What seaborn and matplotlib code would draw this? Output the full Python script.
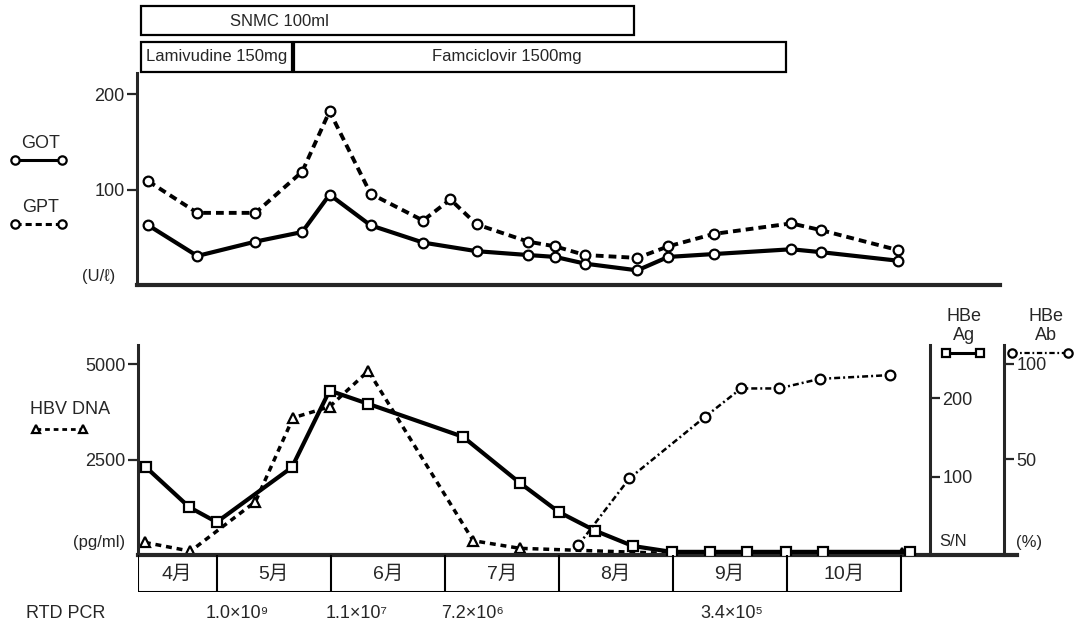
import matplotlib
matplotlib.use("Agg")
import matplotlib.pyplot as plt
from matplotlib.lines import Line2D
from matplotlib.patches import Rectangle
import seaborn as sns

# ---------------- data (x in month units: 5.0 = 1 May, 6.0 = 1 June ...) -------------
gpt_x = [4.40, 4.83, 5.34, 5.75, 5.99, 6.35, 6.81, 7.05, 7.28, 7.73, 7.97, 8.23, 8.69, 8.96, 9.36, 10.04, 10.30, 10.98]
gpt_y = [109, 76, 76, 119, 182, 96, 68, 90, 64, 46, 41, 32, 29, 41, 54, 65, 58, 37]
got_x = [4.40, 4.83, 5.34, 5.75, 5.99, 6.35, 6.81, 7.28, 7.73, 7.97, 8.23, 8.69, 8.96, 9.36, 10.04, 10.30, 10.98]
got_y = [63, 31, 46, 56, 95, 63, 45, 36, 32, 30, 23, 16, 30, 33, 38, 35, 26]

dna_x = [4.37, 4.77, 5.34, 5.67, 5.99, 6.33, 7.25, 7.66, 8.99, 11.01]
dna_y = [330, 100, 1400, 3600, 3890, 4830, 375, 175, 40, 40]          # pg/ml

hbeag_x = [4.38, 4.76, 5.00, 5.66, 5.99, 6.33, 7.16, 7.66, 8.00, 8.32, 8.65, 8.99, 9.33, 9.65, 9.99, 10.32, 11.08]
hbeag_y = [112, 61, 42, 112, 210, 193, 151, 92, 55, 31, 11.5, 4, 4, 4, 4, 4, 4]   # S/N

hbeab_x = [8.17, 8.62, 9.28, 9.60, 9.93, 10.29, 10.91]
hbeab_y = [5, 40, 72, 87, 87, 92, 94]                                  # %

months = ["4月", "5月", "6月", "7月", "8月", "9月", "10月"]
month_edges = [4.307, 5, 6, 7, 8, 9, 10, 11]

snmc_period = (4.34, 8.66)
lam_period = (4.34, 5.66)
fam_period = (5.68, 9.99)

pcr_labels = ["1.0×10⁹", "1.1×10⁷", "7.2×10⁶", "3.4×10⁵"]
pcr_px = [237, 357, 473, 732]

# ---------------- layout helpers ---------------------------------------------------------
W, H = 1077, 642
def fx(px): return px / W
def fy(py): return 1 - py / H
def m(px): return 5 + (px - 216.7) / 114.0

sns.set_style("ticks")
plt.rcParams["font.family"] = ["Liberation Sans", "DejaVu Sans", "Noto Sans CJK JP"]
plt.rcParams["axes.linewidth"] = 2.2
fig = plt.figure(figsize=(W / 100, H / 100), dpi=100)

FS = 13
K = "black"

def circ(**kw):
    d = dict(marker="o", markersize=7, markerfacecolor="white", markeredgecolor=K,
             markeredgewidth=1.6, color=K)
    d.update(kw)
    return d

# ---------------- top panel: GOT / GPT --------------------------------------------------
ax_top = fig.add_axes([fx(137.3), fy(285), fx(1000) - fx(137.3), (285 - 73) / H])
ax_top.set_xlim(m(137.3), m(1000))
ax_top.set_ylim(0.7, 222)
sns.lineplot(x=gpt_x, y=gpt_y, ax=ax_top, sort=False, estimator=None,
             **circ(linewidth=2.8, linestyle=(0, (2.0, 1.3))))
sns.lineplot(x=got_x, y=got_y, ax=ax_top, sort=False, estimator=None,
             **circ(linewidth=3.0, linestyle="-"))
sns.despine(ax=ax_top)
ax_top.spines["bottom"].set_linewidth(3)
ax_top.set_xticks([])
ax_top.set_yticks([100, 200])
ax_top.tick_params(axis="y", direction="out", length=7, width=1.6, labelsize=FS, pad=2)

# ---------------- bottom panel: HBV DNA / HBeAg / HBeAb ----------------------------------
ax_bot = fig.add_axes([fx(137.7), fy(555), fx(1017) - fx(137.7), (555 - 345) / H])
ax_bot.set_xlim(m(137.7), m(1017))
ax_bot.set_ylim(0, 5510)
sns.lineplot(x=dna_x, y=dna_y, ax=ax_bot, sort=False, estimator=None,
             **circ(marker="^", markersize=7.5, linewidth=2.5, linestyle=(0, (1.7, 1.4))))
sns.despine(ax=ax_bot)
ax_bot.spines["bottom"].set_linewidth(3)
ax_bot.set_xticks([])
ax_bot.set_yticks([2500, 5000])
ax_bot.tick_params(axis="y", direction="out", length=7, width=1.6, labelsize=FS, pad=2)

ax_ag = ax_bot.twinx()
ax_ag.set_ylim(0, 268.2)
sns.lineplot(x=hbeag_x, y=hbeag_y, ax=ax_ag, sort=False, estimator=None,
             **circ(marker="s", markersize=7, linewidth=3.0, linestyle="-"))
ax_ab = ax_bot.twinx()
ax_ab.set_ylim(0, 109.7)
sns.lineplot(x=hbeab_x, y=hbeab_y, ax=ax_ab, sort=False, estimator=None,
             **circ(linewidth=1.8, linestyle=(0, (2.4, 1.2, 0.8, 1.2))))
for a, pos, ticks in [(ax_ag, m(930), [100, 200]), (ax_ab, m(1004.3), [50, 100])]:
    for s in ["top", "left", "bottom"]:
        a.spines[s].set_visible(False)
    a.spines["right"].set_position(("data", pos))
    a.spines["right"].set_linewidth(2.2)
    a.set_yticks(ticks)
    a.set_ylabel("")
    a.tick_params(axis="y", direction="out", length=7, width=1.6, labelsize=FS, pad=2)
    a.set_xlim(ax_bot.get_xlim())

# ---------------- month row -------------------------------------------------------------
ax_m = fig.add_axes([fx(137.7), fy(591.7), fx(1017) - fx(137.7), (591.7 - 555) / H])
ax_m.set_xlim(m(137.7), m(1017))
ax_m.set_ylim(0, 1)
ax_m.axis("off")
ax_m.vlines(month_edges, 0, 1, color=K, lw=1.5)
ax_m.hlines(0, month_edges[0], month_edges[-1], color=K, lw=2.2)
for i, lab in enumerate(months):
    ax_m.text((month_edges[i] + month_edges[i + 1]) / 2, 0.47, lab, ha="center", va="center",
              fontsize=14, family=["Liberation Sans", "Noto Sans CJK JP"])

# ---------------- treatment boxes -------------------------------------------------------
ax_tx = fig.add_axes([fx(137.3), fy(75), fx(1000) - fx(137.3), 75 / H])
ax_tx.set_xlim(m(137.3), m(1000))
ax_tx.set_ylim(75, 0)
ax_tx.axis("off")
for (x0, x1), y0, y1 in [(snmc_period, 6, 35), (lam_period, 41.7, 71.7), (fam_period, 41.7, 71.7)]:
    ax_tx.add_patch(Rectangle((x0, y0), x1 - x0, y1 - y0, fill=False, lw=1.6, ec=K))
ax_tx.text(m(279), 21, "SNMC 100ml", ha="center", va="center", fontsize=12)
ax_tx.text(sum(lam_period) / 2, 57, "Lamivudine 150mg", ha="center", va="center", fontsize=12)
ax_tx.text(m(507), 57, "Famciclovir 1500mg", ha="center", va="center", fontsize=12)

# ---------------- side labels & legend samples ------------------------------------------
def ftext(px, py, s, ha="center", **kw):
    fig.text(fx(px), fy(py), s, ha=ha, va="center", fontsize=kw.pop("fontsize", FS), **kw)

def sample(x0, x1, y, **kw):
    fig.add_artist(Line2D([fx(x0), fx(x1)], [fy(y), fy(y)], transform=fig.transFigure, **kw))

ftext(41, 143, "GOT")
sample(14.5, 62, 160, **circ(markersize=6, linewidth=2.2, linestyle="-"))
ftext(41, 208, "GPT")
sample(14.5, 62, 224, **circ(markersize=6, linewidth=2.2, linestyle=(0, (2.0, 1.3))))
ftext(99, 277, "(U/ℓ)", fontsize=12)

ftext(70, 410, "HBV DNA")
sample(36, 83, 429, **circ(marker="^", markersize=6, linewidth=2.0, linestyle=(0, (1.7, 1.4))))
ftext(125, 543, "(pg/ml)", ha="right", fontsize=12)

ftext(964, 316, "HBe")
ftext(964, 336, "Ag")
sample(946, 980, 353, **circ(marker="s", markersize=5.5, linewidth=2.2, linestyle="-"))
ftext(1046, 316, "HBe")
ftext(1046, 336, "Ab")
sample(1012, 1068, 353, **circ(markersize=6, linewidth=1.6, linestyle=(0, (2.4, 1.2, 0.8, 1.2))))
ftext(953, 542, "S/N", fontsize=12)
ftext(1029, 542, "(%)", fontsize=12)

ftext(66, 613, "RTD PCR")
for px, lab in zip(pcr_px, pcr_labels):
    ftext(px, 613, lab)

fig.savefig("out.png", dpi=100)
